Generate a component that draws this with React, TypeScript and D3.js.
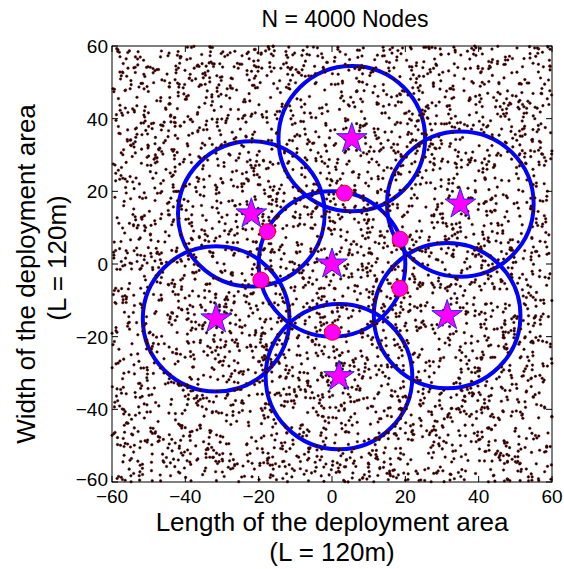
import React from 'react';
import * as d3 from 'd3';

// cluster centres (stars) and their coverage circles, radius in metres
const clusterX = [0, 5.4, 35, 31.4, 1.9, -31.6, -22];
const clusterY = [0, 34.5, 16.5, -14.2, -31, -15.1, 13.8];
const clusterRadius = 20;

// relay / gateway nodes on the central circle
const gatewayX = [3.4, 18.6, 18.5, 0.1, -19.4, -17.6];
const gatewayY = [19.5, 6.8, -6.7, -18.8, -4.4, 8.9];

const tickValues = [-60, -40, -20, 0, 20, 40, 60];
const nodeCount = 4000;
const areaHalf = 60;

// the node field is a uniform random deployment that cannot be read point by point,
// so it is stood in for by a fixed-seed generator (same picture every run)
function seeded(seed: number) {
  let a = seed >>> 0;
  return () => {
    a = (a + 0x6d2b79f5) >>> 0;
    let t = a;
    t = Math.imul(t ^ (t >>> 15), t | 1);
    t ^= t + Math.imul(t ^ (t >>> 7), t | 61);
    return ((t ^ (t >>> 14)) >>> 0) / 4294967296;
  };
}
const rand = seeded(4000);
const nodes = d3.range(nodeCount).map(() => [
  -areaHalf + 2 * areaHalf * rand(),
  -areaHalf + 2 * areaHalf * rand(),
]);

const W = 564;
const H = 569;
const left = 112, right = 552, top = 46, bottom = 482;
const font = 'Liberation Sans, Arial, Helvetica, sans-serif';

export default function App() {
  const x = d3.scaleLinear().domain([-60, 60]).range([left, right]);
  const y = d3.scaleLinear().domain([-60, 60]).range([bottom, top]);
  const rx = x(clusterRadius) - x(0);
  const ry = y(0) - y(clusterRadius);
  const star = d3.symbol(d3.symbolStar, 290)();
  const fmt = d3.format('d');
  const tl = 6;

  return (
    <div style={{ position: 'absolute', left: 0, top: 0 }}>
      <svg width={W} height={H} style={{ display: 'block', background: '#fff' }}>
        {/* coverage circles */}
        {clusterX.map((cx, i) => (
          <ellipse key={'c' + i} cx={x(cx)} cy={y(clusterY[i])} rx={rx} ry={ry}
            fill="none" stroke="#0000ff" strokeWidth={4} />
        ))}

        {/* deployed nodes */}
        <g fill="#0a0000" stroke="#7a1414" strokeWidth={0.5}>
          {nodes.map((d, i) => (
            <circle key={i} cx={x(d[0])} cy={y(d[1])} r={1.3} />
          ))}
        </g>

        {/* cluster heads */}
        {clusterX.map((cx, i) => (
          <path key={'s' + i} d={star!} transform={`translate(${x(cx)},${y(clusterY[i])})`}
            fill="#ff00ff" stroke="#2222ff" strokeWidth={1} />
        ))}

        {/* gateways */}
        {gatewayX.map((gx, i) => (
          <circle key={'g' + i} cx={x(gx)} cy={y(gatewayY[i])} r={8}
            fill="#ff00ff" stroke="#ff0000" strokeWidth={1} />
        ))}

        {/* axes box and ticks */}
        <rect x={left} y={top} width={right - left} height={bottom - top}
          fill="none" stroke="#000" strokeWidth={1} />
        <g stroke="#000" strokeWidth={1}>
          {tickValues.map(t => (
            <g key={'t' + t}>
              <line x1={x(t)} x2={x(t)} y1={bottom} y2={bottom - tl} />
              <line x1={x(t)} x2={x(t)} y1={top} y2={top + tl} />
              <line x1={left} x2={left + tl} y1={y(t)} y2={y(t)} />
              <line x1={right} x2={right - tl} y1={y(t)} y2={y(t)} />
            </g>
          ))}
        </g>
        <g fontFamily={font} fontSize={19} fill="#000">
          {tickValues.map(t => (
            <text key={'xl' + t} x={x(t)} y={bottom + 21} textAnchor="middle">{fmt(t)}</text>
          ))}
          {tickValues.map(t => (
            <text key={'yl' + t} x={left - 4} y={t === -60 ? y(t) + 4 : y(t) + 7} textAnchor="end">{fmt(t)}</text>
          ))}
        </g>

        {/* title and axis labels */}
        <text x={345} y={27} textAnchor="middle" fontFamily={font} fontSize={23}>N = 4000 Nodes</text>
        <g fontFamily={font} fontSize={26} textAnchor="middle">
          <text x={332} y={531}>Length of the deployment area</text>
          <text x={332} y={561}>(L = 120m)</text>
        </g>
        <g fontFamily={font} fontSize={26} textAnchor="middle" transform="translate(0,264) rotate(-90)">
          <text x={-10} y={35}>Width of the deployment area</text>
          <text x={6} y={66}>(L = 120m)</text>
        </g>
      </svg>
    </div>
  );
}
